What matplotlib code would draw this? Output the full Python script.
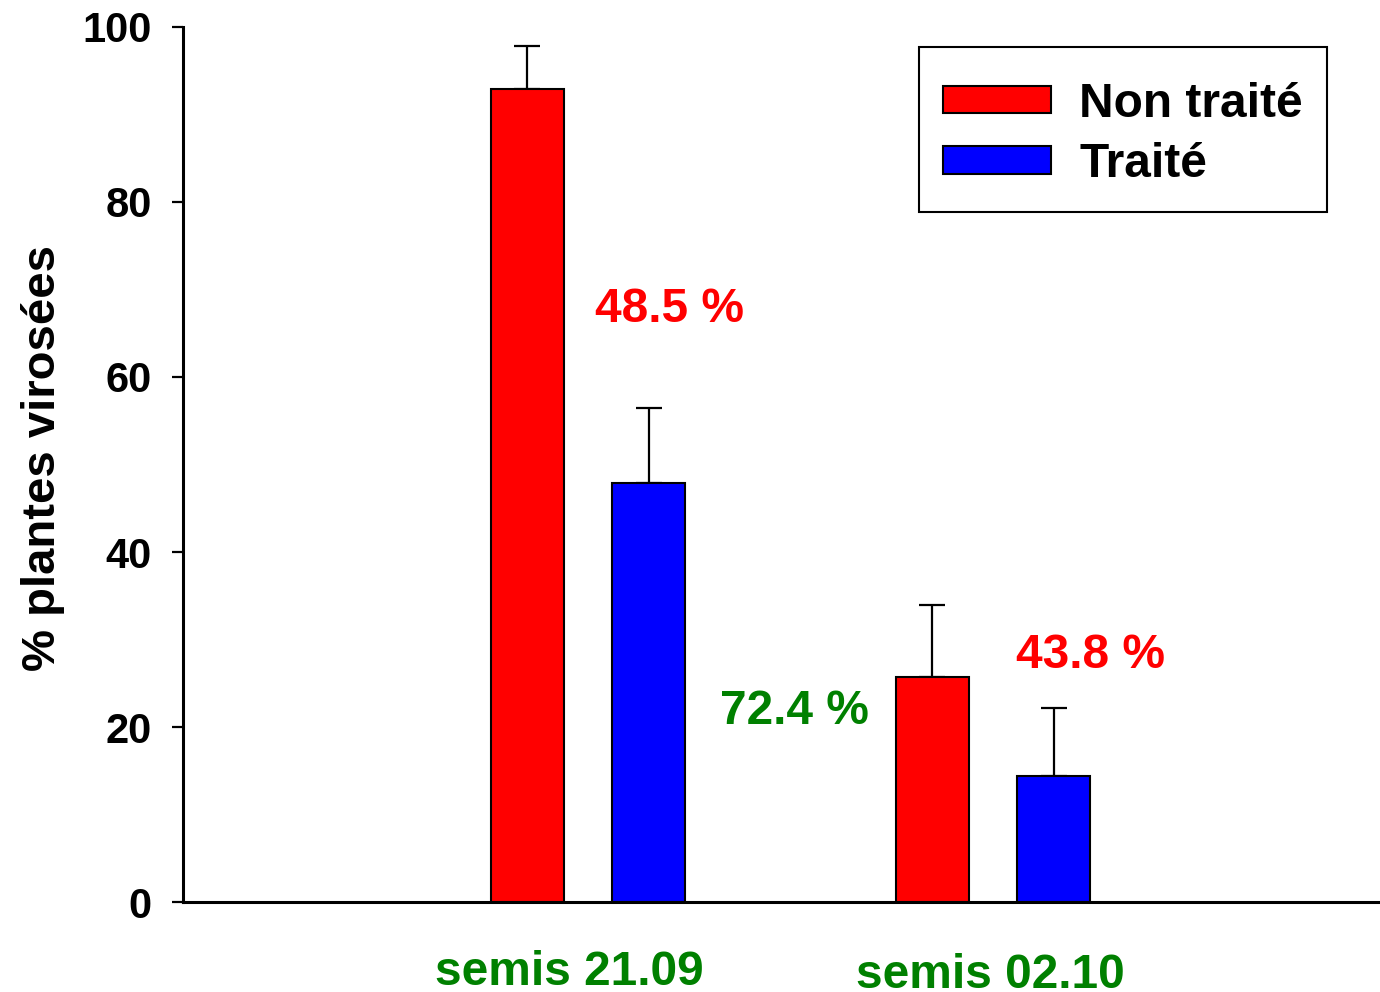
import matplotlib
matplotlib.use("Agg")
import matplotlib.pyplot as plt
import numpy as np

plt.rcParams['font.family'] = ['Liberation Sans', 'DejaVu Sans']
plt.rcParams['font.weight'] = 'bold'

groups = ["semis 21.09", "semis 02.10"]
series = ["Non traité", "Traité"]
non_traite = [92.9, 25.7]
traite = [47.9, 14.4]
err_non_traite = [4.9, 8.3]
err_traite = [8.6, 7.8]
reductions = ["48.5 %", "72.4 %", "43.8 %"]

fig = plt.figure(figsize=(13.8, 9.92), dpi=100)
ax = fig.add_axes([0.1326, 0.0907, 0.8674, 0.8821])

x = np.array([1.0, 2.0])
w = 0.18
off = 0.15

ax.bar(x - off, non_traite, w, color="#ff0000", edgecolor="black", linewidth=1.5,
       label=series[0], zorder=2)
ax.bar(x + off, traite, w, color="#0000ff", edgecolor="black", linewidth=1.5,
       label=series[1], zorder=2)
ax.errorbar(x - off, non_traite, yerr=[[0, 0], err_non_traite], fmt="none",
            ecolor="black", elinewidth=1.6, capsize=9.7, capthick=1.6, zorder=1)
ax.errorbar(x + off, traite, yerr=[[0, 0], err_traite], fmt="none",
            ecolor="black", elinewidth=1.6, capsize=9.7, capthick=1.6, zorder=1)

ax.set_xlim(0, 2.956)
ax.set_ylim(0, 100)
ax.set_yticks([0, 20, 40, 60, 80, 100])
ax.tick_params(axis="y", length=8, width=1.6, pad=14.5, labelsize=30)
ax.set_xticks([])
for lab in ax.get_yticklabels():
    lab.set_fontweight("bold")

for s in ["top", "right"]:
    ax.spines[s].set_visible(False)
ax.spines["left"].set_linewidth(2.2)
ax.spines["bottom"].set_linewidth(2.2)

ax.set_ylabel("% plantes virosées", fontsize=34, fontweight="bold")
ax.yaxis.set_label_coords(-0.0986, 0.508)

# reduction percentages
fs = 34.5
ax.text(1.2025, 67.7, reductions[0], color="#ff0000", fontsize=fs, fontweight="bold",
        ha="center", va="center")
ax.text(1.511, 21.8, reductions[1], color="#008000", fontsize=fs, fontweight="bold",
        ha="center", va="center")
ax.text(2.242, 28.2, reductions[2], color="#ff0000", fontsize=fs, fontweight="bold",
        ha="center", va="center")

# group labels under the axis
ax.text(0.955, -8.0, groups[0], color="#008000", fontsize=fs, fontweight="bold",
        ha="center", va="center")
ax.text(1.993, -8.4, groups[1], color="#008000", fontsize=fs, fontweight="bold",
        ha="center", va="center")

leg = ax.legend(loc="upper right", bbox_to_anchor=(0.9641, 0.9456),
                bbox_transform=fig.transFigure, fontsize=fs, frameon=False,
                handlelength=2.25, handleheight=0.5, handletextpad=0.58,
                borderpad=0.58, labelspacing=0.32, borderaxespad=0)
for t in leg.get_texts():
    t.set_fontweight("bold")

# legend frame
frame = plt.Rectangle((919 / 1380, 1 - 212 / 992), 408 / 1380, 165 / 992,
                      transform=fig.transFigure, fill=False, edgecolor="black",
                      linewidth=1.5)
fig.add_artist(frame)

fig.savefig("out.png", dpi=100)
